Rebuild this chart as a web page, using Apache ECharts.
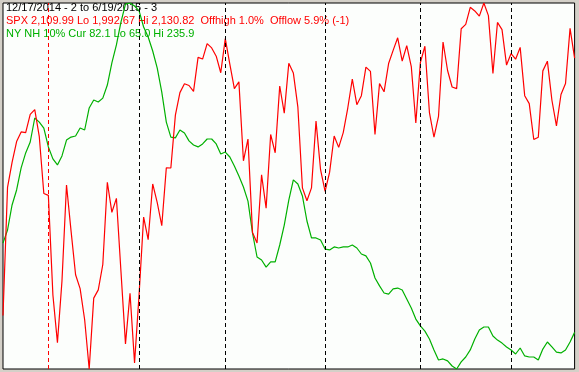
<!DOCTYPE html>
<html>
<head>
<meta charset="utf-8">
<script src="https://cdn.jsdelivr.net/npm/echarts@6/dist/echarts.min.js"></script>
<style>
html,body{margin:0;padding:0;background:#d4d0c8;}
#c{width:579px;height:372px;}
</style>
</head>
<body>
<div id="c"></div>
<script>
// Trading dates 12/17/2014 .. 6/19/2015
const dates = [
 '12/17','12/18','12/19','12/22','12/23','12/24','12/26','12/29','12/30','12/31',
 '1/2','1/5','1/6','1/7','1/8','1/9','1/12','1/13','1/14','1/15','1/16','1/20','1/21','1/22','1/23','1/26','1/27','1/28','1/29','1/30',
 '2/2','2/3','2/4','2/5','2/6','2/9','2/10','2/11','2/12','2/13','2/17','2/18','2/19','2/20','2/23','2/24','2/25','2/26','2/27',
 '3/2','3/3','3/4','3/5','3/6','3/9','3/10','3/11','3/12','3/13','3/16','3/17','3/18','3/19','3/20','3/23','3/24','3/25','3/26','3/27','3/30','3/31',
 '4/1','4/2','4/6','4/7','4/8','4/9','4/10','4/13','4/14','4/15','4/16','4/17','4/20','4/21','4/22','4/23','4/24','4/27','4/28','4/29','4/30',
 '5/1','5/4','5/5','5/6','5/7','5/8','5/11','5/12','5/13','5/14','5/15','5/18','5/19','5/20','5/21','5/22','5/26','5/27','5/28','5/29',
 '6/1','6/2','6/3','6/4','6/5','6/8','6/9','6/10','6/11','6/12','6/15','6/16','6/17','6/18','6/19'
];

const spx = [
 2012.89,2061.23,2070.65,2078.54,2082.17,2081.88,2088.77,2090.57,2080.35,2058.90,
 2058.20,2020.58,2002.61,2025.90,2062.14,2044.81,2028.26,2023.03,2011.27,1992.67,2019.42,2022.55,2032.12,2063.15,2051.82,2057.09,2029.55,2002.16,2021.25,1994.99,
 2020.85,2050.03,2041.51,2062.52,2055.47,2046.74,2068.59,2068.53,2088.48,2096.99,2100.34,2099.68,2097.45,2110.30,2109.66,2115.48,2113.86,2110.74,2104.50,
 2117.39,2107.78,2098.53,2101.04,2071.26,2079.43,2044.16,2040.24,2065.95,2053.40,2081.19,2074.28,2099.50,2089.27,2108.10,2104.42,2091.50,2061.05,2056.15,2061.02,2086.24,2067.89,
 2059.69,2066.96,2080.62,2076.33,2081.90,2091.18,2102.06,2092.43,2095.84,2106.63,2104.99,2081.18,2100.40,2097.29,2107.96,2112.93,2117.69,2108.92,2114.76,2106.85,2085.51,
 2108.29,2114.49,2089.46,2080.15,2088.00,2116.10,2105.33,2099.12,2098.48,2121.10,2122.73,2129.20,2127.83,2125.85,2130.82,2126.06,2104.20,2123.48,2120.79,2107.39,
 2111.73,2109.60,2114.07,2095.84,2092.83,2079.28,2080.15,2105.20,2108.86,2094.11,2084.43,2096.29,2100.44,2121.24,2109.99
];

const nynh = [
 123.8,129.9,141.6,148.6,158.9,165.9,171.0,182.2,180.3,177.5,
 168.7,163.1,160.3,164.5,171.9,173.3,173.8,177.5,176.6,186.9,190.6,189.7,191.5,197.6,207.9,216.3,227.0,235.4,235.9,234.5,
 232.2,224.7,220.0,213.5,205.5,194.3,180.3,173.3,172.9,176.6,175.2,171.5,169.6,168.7,170.1,172.4,172.4,170.1,165.4,
 166.3,164.0,159.8,155.1,150.0,143.4,128.5,117.3,115.9,112.6,115.0,115.0,122.9,132.2,143.9,153.3,151.4,145.8,134.1,126.2,126.2,125.2,
 121.0,120.6,122.0,121.5,122.0,122.0,122.9,121.5,118.7,117.8,114.5,107.5,103.8,100.5,100.0,102.4,102.8,101.9,97.7,93.5,88.3,
 85.1,82.7,79.0,73.9,69.2,69.7,68.8,66.4,65.0,68.3,70.6,73.9,79.0,83.2,84.6,84.6,80.4,78.5,77.1,75.3,
 73.9,72.0,74.8,71.1,70.6,70.6,69.2,74.3,77.6,75.3,72.9,72.5,73.9,77.6,82.1
];

const spxRange = [1992.67, 2130.82];
const nhRange = [65.0, 235.9];
const yearMarks = ['1/2'];
const monthMarks = ['2/2','3/2','4/1','5/1','6/1'];

const headerLines = [
 '12/17/2014 - 2 to 6/19/2015 - 3',
 'SPX 2,109.99 Lo 1,992.67 Hi 2,130.82  Offhigh 1.0%  Offlow 5.9% (-1)',
 'NY NH 10% Cur 82.1 Lo 65.0 Hi 235.9'
];
const headerColors = ['#000000','#ff0000','#00b000'];

const chart = echarts.init(document.getElementById('c'), null, {renderer:'canvas'});
const font = '"Liberation Sans", Arial, sans-serif';

const markData = yearMarks.map(d => ({xAxis: d, lineStyle:{color:'#ff0000'}}))
  .concat(monthMarks.map(d => ({xAxis: d, lineStyle:{color:'#000000'}})));

chart.setOption({
  animation: false,
  backgroundColor: '#d4d0c8',
  grid: {left: 3, right: 4.4, top: 3, bottom: 3, show: true,
         backgroundColor: '#fcfefc', borderColor: '#000', borderWidth: 1},
  graphic: headerLines.map((t, i) => ({
    type: 'text', left: 6, top: 2 + i * 13, z: 1,
    style: {text: t, fill: headerColors[i], font: '11px ' + font}
  })),
  xAxis: {type: 'category', data: dates, boundaryGap: false, show: false},
  yAxis: [
    {type: 'value', min: spxRange[0], max: spxRange[1], show: false, splitLine:{show:false}},
    {type: 'value', min: nhRange[0], max: nhRange[1], show: false, splitLine:{show:false}}
  ],
  series: [
    {type: 'line', data: nynh, yAxisIndex: 1, symbol: 'none', z: 3,
     lineStyle: {color: '#00b000', width: 1.2},
     markLine: {silent: true, symbol: 'none', label: {show: false},
       lineStyle: {type: [4, 3], width: 1}, data: markData}},
    {type: 'line', data: spx, yAxisIndex: 0, symbol: 'none', z: 4,
     lineStyle: {color: '#ff0000', width: 1.2}}
  ]
});
</script>
</body>
</html>
